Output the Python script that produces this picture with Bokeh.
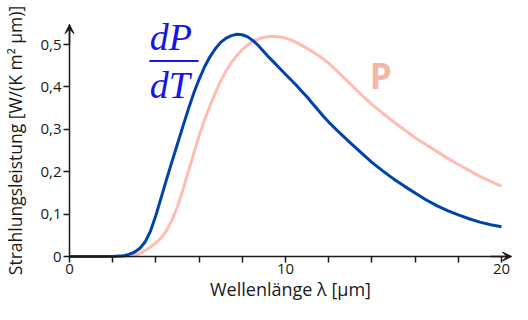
from bokeh.plotting import figure
from bokeh.models import Range1d, FixedTicker, Arrow, VeeHead, Label
from bokeh.embed import file_html
from bokeh.resources import INLINE

# wavelength samples [µm]
wavelength = [0, 0.5, 1, 1.5, 2, 2.5, 2.75, 3, 3.25, 3.5, 3.75, 4, 4.25, 4.5, 4.75, 5, 5.25,
              5.5, 5.75, 6, 6.25, 6.5, 6.75, 7, 7.25, 7.5, 7.75, 8, 8.25, 8.5, 8.75, 9, 9.25,
              9.5, 9.75, 10, 10.25, 10.5, 10.75, 11, 11.25, 11.5, 11.75, 12, 12.5, 13, 13.5,
              14, 14.5, 15, 15.5, 16, 16.5, 17, 17.5, 18, 18.5, 19, 19.5, 20]
# dP/dT curve (blue)
dP_dT = [0, 0, 0, 0, 0, 0.002, 0.005, 0.010, 0.019, 0.034, 0.060, 0.097, 0.140, 0.183, 0.225,
         0.266, 0.307, 0.347, 0.385, 0.418, 0.447, 0.471, 0.490, 0.505, 0.515, 0.521, 0.524,
         0.523, 0.518, 0.509, 0.497, 0.483, 0.469, 0.456, 0.443, 0.430, 0.417, 0.404, 0.390,
         0.376, 0.361, 0.346, 0.331, 0.317, 0.292, 0.268, 0.245, 0.222, 0.202, 0.183, 0.166,
         0.150, 0.134, 0.120, 0.108, 0.098, 0.089, 0.081, 0.075, 0.070]
# P curve (pink)
P = [0, 0, 0, 0, 0, 0, 0.001, 0.003, 0.007, 0.014, 0.022, 0.032, 0.044, 0.062, 0.087, 0.118,
     0.157, 0.200, 0.243, 0.285, 0.322, 0.355, 0.386, 0.414, 0.438, 0.458, 0.474, 0.488, 0.499,
     0.507, 0.513, 0.517, 0.519, 0.519, 0.518, 0.515, 0.511, 0.505, 0.498, 0.491, 0.483, 0.475,
     0.466, 0.456, 0.432, 0.407, 0.382, 0.359, 0.338, 0.318, 0.299, 0.280, 0.264, 0.248, 0.232,
     0.217, 0.203, 0.189, 0.177, 0.166]

x_ticks = [0, 2, 4, 6, 8, 10, 12, 14, 16, 18, 20]
x_tick_labels = ["0", "", "", "", "", "10", "", "", "", "", "20"]
y_ticks = [0, 0.1, 0.2, 0.3, 0.4, 0.5]
y_tick_labels = ["0", "0,1", "0,2", "0,3", "0,4", "0,5"]

x_label = "Wellenlänge λ [µm]"
y_label = "Strahlungsleistung [W/(K m² µm)]"

BLUE_LINE = "#0044aa"
PINK_LINE = "#ffbcb2"
BLUE_TEXT = "#1515e6"
PINK_TEXT = "#f6b6a8"
AX = "#1a1a1a"

p = figure(width=512, height=304, output_backend="svg", toolbar_location=None,
           x_range=Range1d(-3.1944, 20.509), y_range=Range1d(-0.1132, 0.6038),
           min_border_left=0, min_border_right=0, min_border_top=0, min_border_bottom=0)
p.outline_line_color = None
p.xgrid.visible = False
p.ygrid.visible = False
p.background_fill_color = "white"
p.border_fill_color = "white"

for ax in (p.xaxis[0], p.yaxis[0]):
    ax.fixed_location = 0
    ax.axis_line_color = AX
    ax.axis_line_width = 1.5
    ax.major_tick_line_color = AX
    ax.major_tick_line_width = 1.5
    ax.major_tick_in = 0
    ax.major_tick_out = 6
    ax.minor_tick_line_color = None
    ax.major_label_text_font = "Open Sans"
    ax.major_label_text_font_size = "15px"
    ax.major_label_text_color = AX
    ax.axis_label_text_font = "Open Sans"
    ax.axis_label_text_font_style = "normal"
    ax.axis_label_text_color = AX

p.xaxis.ticker = FixedTicker(ticks=x_ticks)
p.xaxis.major_label_overrides = dict(zip(x_ticks, x_tick_labels))
p.xaxis.bounds = (0, 20.46)
p.xaxis.axis_label = x_label
p.xaxis.axis_label_text_font_size = "18px"
p.xaxis.major_label_standoff = 1
p.xaxis.axis_label_standoff = 0

p.yaxis.ticker = FixedTicker(ticks=y_ticks)
p.yaxis.major_label_overrides = dict(zip(y_ticks, y_tick_labels))
p.yaxis.bounds = (0, 0.547)
p.yaxis.axis_label = y_label
p.yaxis.axis_label_text_font_size = "17.5px"
p.yaxis.major_label_standoff = 2
p.yaxis.axis_label_standoff = 10

p.line(wavelength, P, line_color=PINK_LINE, line_width=3)
p.line(wavelength, dP_dT, line_color=BLUE_LINE, line_width=3)

# axis arrows
p.add_layout(Arrow(end=VeeHead(size=9, fill_color=AX, line_color=AX, line_width=1), line_color=AX,
                   line_width=1.5, x_start=0, y_start=0.5, x_end=0, y_end=0.547))
p.add_layout(Arrow(end=VeeHead(size=9, fill_color=AX, line_color=AX, line_width=1), line_color=AX,
                   line_width=1.5, x_start=19.5, y_start=0, x_end=20.46, y_end=0))

# dP/dT fraction label
p.add_layout(Label(x=3.72, y=0.518, text="dP", text_font="Liberation Serif", text_font_style="italic",
                   text_font_size="38px", text_color=BLUE_TEXT, text_baseline="alphabetic"))
p.add_layout(Arrow(start=None, end=None, x_start=3.7, x_end=5.97, y_start=0.4614, y_end=0.4614,
                   line_color=BLUE_TEXT, line_width=2))
p.add_layout(Label(x=3.72, y=0.405, text="dT", text_font="Liberation Serif", text_font_style="italic",
                   text_font_size="38px", text_color=BLUE_TEXT, text_baseline="alphabetic"))
# P label
p.add_layout(Label(x=13.9, y=0.428, text="P", text_font="Open Sans", text_font_style="bold",
                   text_font_size="35px", text_color=PINK_TEXT, text_baseline="alphabetic"))

open("out.html", "w").write(file_html(p, INLINE))
